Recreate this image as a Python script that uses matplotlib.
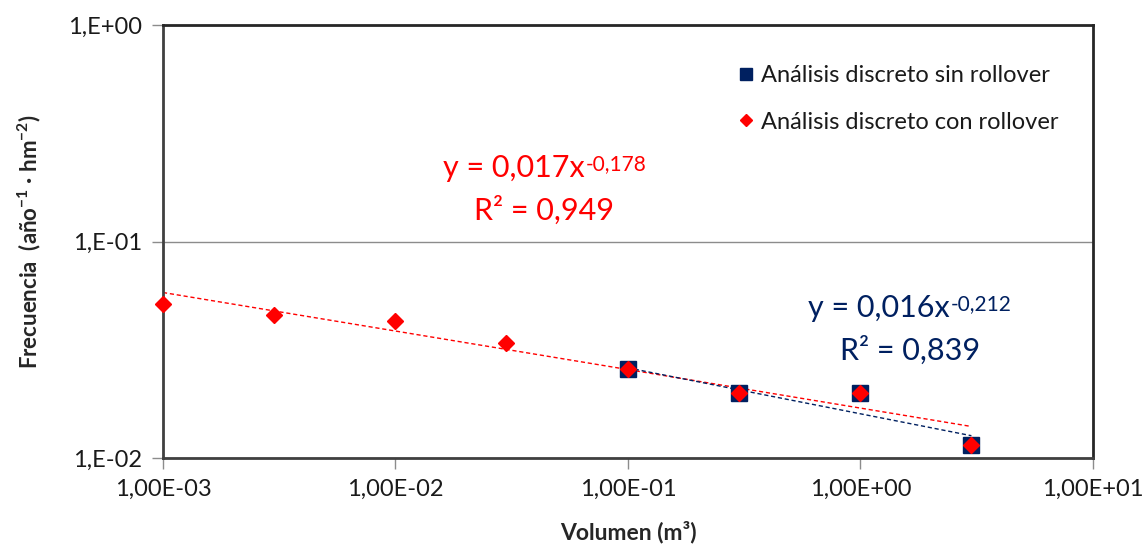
import matplotlib
matplotlib.use("Agg")
import matplotlib.pyplot as plt
import numpy as np
from matplotlib.ticker import FixedLocator, FixedFormatter, NullLocator

plt.rcParams['font.family'] = ['Lato', 'DejaVu Sans']

# data
vol_con = [1e-3, 3e-3, 1e-2, 3e-2, 1e-1, 3e-1, 1e0, 3e0]
frec_con = [0.0513, 0.0456, 0.0428, 0.0339, 0.0257, 0.0200, 0.0200, 0.0115]
vol_sin = [1e-1, 3e-1, 1e0, 3e0]
frec_sin = [0.0257, 0.0200, 0.0200, 0.0115]

# trendline coefficients shown on the chart (a, b, R2) for y = a * x^b
fit_con = (0.017, -0.178, 0.949)
fit_sin = (0.016, -0.212, 0.839)

x_ticks = [1e-3, 1e-2, 1e-1, 1e0, 1e1]
x_labels = ['1,00E-03', '1,00E-02', '1,00E-01', '1,00E+00', '1,00E+01']
y_ticks = [1e-2, 1e-1, 1e0]
y_labels = ['1,E-02', '1,E-01', '1,E+00']

red = '#FF0000'
navy = '#002060'


def coma(v):
    return ('%g' % v).replace('.', ',')


fig = plt.figure(figsize=(11.47, 5.44), dpi=100)
ax = fig.add_axes([0.1421, 0.1581, 0.8108, 0.7959])
ax.set_xscale('log')
ax.set_yscale('log')
ax.set_xlim(1e-3, 1e1)
ax.set_ylim(1e-2, 1e0)

ax.xaxis.set_major_locator(FixedLocator(x_ticks))
ax.xaxis.set_major_formatter(FixedFormatter(x_labels))
ax.xaxis.set_minor_locator(NullLocator())
ax.yaxis.set_major_locator(FixedLocator(y_ticks))
ax.yaxis.set_major_formatter(FixedFormatter(y_labels))
ax.yaxis.set_minor_locator(NullLocator())
ax.grid(axis='y', color='#8c8c8c', linewidth=1)
ax.set_axisbelow(True)

for s in ax.spines.values():
    s.set_color('#404040')
    s.set_linewidth(2)
ax.spines['top'].set_color('#262626')
ax.spines['right'].set_color('#262626')
ax.tick_params(axis='both', direction='out', length=8, width=1, color='#8c8c8c',
               labelsize=17, labelcolor='#1a1a1a', pad=7)

# trendlines
xs = np.logspace(np.log10(vol_con[0]), np.log10(vol_con[-1]), 50)
ax.plot(xs, fit_con[0] * xs ** fit_con[1], color=red, linestyle=(0, (3, 2)),
        linewidth=1, zorder=2)
xb = np.logspace(np.log10(vol_sin[0]), np.log10(vol_sin[-1]), 50)
ax.plot(xb, fit_sin[0] * xb ** fit_sin[1], color=navy, linestyle=(0, (3, 2)),
        linewidth=1, zorder=2)

ax.plot(vol_sin, frec_sin, 's', color=navy, markersize=11.5, linestyle='none',
        label='Análisis discreto sin rollover', zorder=3, clip_on=False)
ax.plot(vol_con, frec_con, 'D', color=red, markersize=8.5, linestyle='none',
        label='Análisis discreto con rollover', zorder=4, clip_on=False)

leg = ax.legend(loc='upper left', bbox_to_anchor=(0.591, 0.957), frameon=False,
                fontsize=17, handletextpad=0.15, labelspacing=1.09,
                markerscale=0.75, handlelength=1.0)
for t in leg.get_texts():
    t.set_color('#1a1a1a')


def ecuacion(fit, color, x1, y1, x2, y2):
    t = ax.text(x1, y1, 'y = %sx' % coma(fit[0]), transform=ax.transAxes,
                color=color, fontsize=22, ha='left', va='baseline')
    ax.annotate(coma(fit[1]), xy=(1, 1), xycoords=t, xytext=(1, 0),
                textcoords='offset points', color=color, fontsize=15,
                ha='left', va='top')
    ax.text(x2, y2, 'R² = %s' % coma(fit[2]), transform=ax.transAxes,
            color=color, fontsize=22, ha='center', va='baseline')


ecuacion(fit_con, red, 0.301, 0.649, 0.410, 0.550)
ecuacion(fit_sin, navy, 0.6935, 0.3256, 0.803, 0.2263)

ax.set_xlabel('Volumen (m³)', fontsize=16.5, fontweight='bold', color='#262626', labelpad=15)
ax.set_ylabel('Frecuencia  (año$^{\\mathregular{-1}}$ · hm$^{\\mathregular{-2}}$)', fontsize=16,
              fontweight='bold', color='#262626', labelpad=18)

fig.savefig('out.png', dpi=100)
